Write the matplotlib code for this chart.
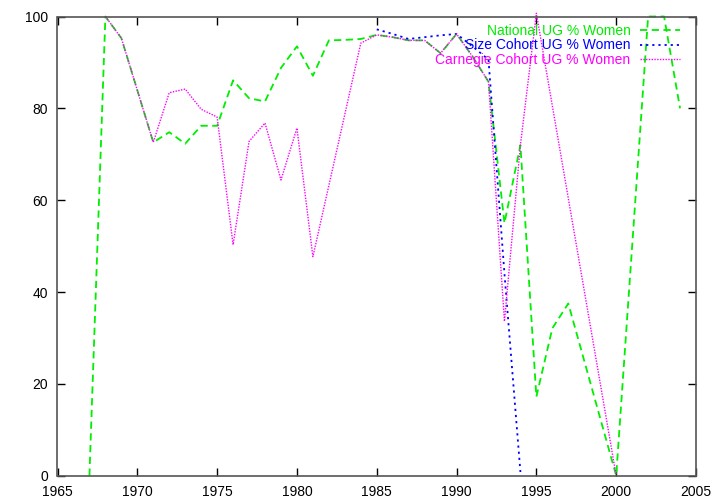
import matplotlib
matplotlib.use('Agg')
import matplotlib.pyplot as plt
import numpy as np

plt.rcParams['font.family'] = ['Liberation Sans', 'DejaVu Sans']

# --- data ---
nat_years = [1967, 1968, 1969, 1971, 1972, 1973, 1974, 1975, 1976, 1977, 1978,
             1979, 1980, 1981, 1982, 1983, 1984, 1985, 1986, 1987, 1988, 1989,
             1990, 1991, 1992, 1993, 1994, 1995, 1996, 1997, 2000, 2002, 2003, 2004]
nat_pct = [0, 100, 95.3, 72.6, 74.8, 72.3, 76.2, 76.2, 86.1, 82.2, 81.5,
           88.8, 93.5, 87.1, 94.8, 94.9, 95.1, 96.0, 95.5, 94.8, 94.8, 92.0,
           96.2, 91.3, 85.8, 55.0, 72.0, 17.2, 32.1, 37.5, 0, 100, 100, 80.0]

size_years = [1985, 1986, 1987, 1988, 1989, 1990, 1991, 1992, 1993, 1994]
size_pct = [97.2, 96.2, 95.1, 95.5, 95.9, 96.2, 93.5, 90.6, 44.0, 0.8]

carn_years = [1968, 1969, 1971, 1972, 1973, 1974, 1975, 1976, 1977, 1978, 1979,
              1980, 1981, 1984, 1985, 1986, 1987, 1988, 1989, 1990, 1991, 1992,
              1993, 1994, 1995, 2000]
carn_pct = [100, 95.3, 72.6, 83.4, 84.2, 79.8, 78.1, 50.3, 72.8, 76.8, 64.4,
            75.7, 47.7, 94.2, 96.0, 95.5, 94.8, 94.8, 92.0, 96.2, 91.3, 85.8,
            33.6, 72.0, 100.7, 0]

labels = ['National UG % Women', 'Size Cohort UG % Women', 'Carnegie Cohort UG % Women']

fig = plt.figure(figsize=(7.2, 5.04), dpi=100, facecolor='white')
ax = fig.add_axes([57.5 / 720, 28.3 / 504, (696 - 57.5) / 720, (475.7 - 16.5) / 504])

ax.plot(nat_years, nat_pct, color='#00ee00', lw=1.3, dashes=(4, 2.5),
        label=labels[0], clip_on=False)
ax.plot(size_years, size_pct, color='#0000ff', lw=1.3, dashes=(1.2, 2.2),
        label=labels[1], clip_on=False)
ax.plot(carn_years, carn_pct, color='#ff00ff', lw=1.0, dashes=(1, 1),
        label=labels[2], clip_on=False)

ax.set_xlim(1965, 2005)
ax.set_ylim(0, 100)
ax.set_xticks(np.arange(1965, 2006, 5))
ax.set_yticks(np.arange(0, 101, 20))
ax.tick_params(direction='in', length=6, width=1, top=True, right=True,
               labelsize=10, pad=7, colors='black')
for sp in ax.spines.values():
    sp.set_color('#555555')
    sp.set_linewidth(1.2)

leg = ax.legend(loc='upper right', bbox_to_anchor=(0.9875, 1.0), markerfirst=False,
                frameon=False, fontsize=10, handlelength=2.9, handletextpad=0.7,
                labelspacing=0.02, borderaxespad=0.35, borderpad=0.2)
for txt, ln in zip(leg.get_texts(), leg.get_lines()):
    txt.set_color(ln.get_color())

fig.savefig('out.png', dpi=100, facecolor='white')
